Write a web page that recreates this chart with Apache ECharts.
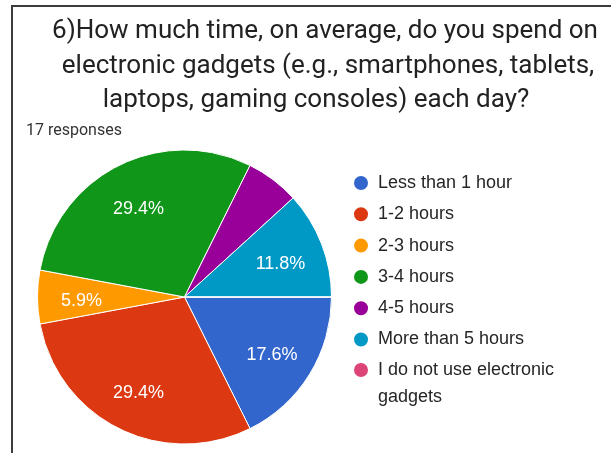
<!DOCTYPE html>
<html>
<head>
<meta charset="utf-8">
<script src="https://cdn.jsdelivr.net/npm/echarts@6/dist/echarts.min.js"></script>
<style>
  html, body { margin: 0; padding: 0; background: #ffffff; }
  #chart { width: 611px; height: 453px; }
</style>
</head>
<body>
<div id="chart"></div>
<script>
// Survey answers: time spent on electronic gadgets per day
const categories = [
  'Less than 1 hour',
  '1-2 hours',
  '2-3 hours',
  '3-4 hours',
  '4-5 hours',
  'More than 5 hours',
  'I do not use electronic gadgets'
];
const responses = [3, 5, 1, 5, 1, 2, 0];
const sliceColors = ['#3366cc', '#dc3912', '#ff9900', '#109618', '#990099', '#0099c6', '#dd4477'];
const titleLines = [
  '6)How much time, on average, do you spend on',
  'electronic gadgets (e.g., smartphones, tablets,',
  'laptops, gaming consoles) each day?'
];
const responseNote = '17 responses';
const unlabeledSlices = ['4-5 hours'];

const chart = echarts.init(document.getElementById('chart'), null, { renderer: 'canvas' });

const PIE_CENTER = [184.5, 297];
const PIE_R = 147;

const sliceData = categories.map((name, i) => ({
  name,
  value: responses[i],
  itemStyle: { color: sliceColors[i] }
}));

// transparent ring that only carries the percentage labels, so they sit ~68% out from the centre
const labelData = categories.map((name, i) => ({
  name,
  value: responses[i],
  itemStyle: { color: 'rgba(0,0,0,0)', borderWidth: 0 }
}));

const legendText = {
  fontFamily: 'Liberation Sans, Arial, sans-serif',
  fontSize: 18,
  color: '#262626',
  lineHeight: 18,
  padding: [0, 0, 0, 4]
};

const titleGraphics = titleLines.map((line, i) => ({
  type: 'text',
  x: [325, 328, 316][i],
  y: [31, 66, 100][i],
  silent: true,
  style: {
    text: line,
    fill: '#222222',
    fontFamily: 'Roboto, sans-serif',
    fontSize: 26,
    align: 'center',
    textAlign: 'center',
    verticalAlign: 'middle',
    textVerticalAlign: 'middle'
  }
}));

const option = {
  backgroundColor: '#ffffff',
  animation: false,
  legend: [
    {
      data: categories.slice(0, 6),
      orient: 'vertical',
      left: 352,
      top: 174,
      padding: 0,
      icon: 'circle',
      itemWidth: 16,
      itemHeight: 16,
      itemGap: 13.3,
      textStyle: legendText
    },
    {
      // long label wraps; a leading blank line keeps its first line level with the dot
      data: categories.slice(6),
      orient: 'vertical',
      left: 352,
      top: 329.5,
      padding: 0,
      icon: 'circle',
      itemWidth: 16,
      itemHeight: 16,
      formatter: name => '\n' + name,
      textStyle: Object.assign({}, legendText, {
        lineHeight: 27,
        width: 205,
        overflow: 'break'
      })
    }
  ],
  graphic: [
    {
      type: 'polyline',
      silent: true,
      shape: { points: [[12, 453], [12, 6], [611, 6]] },
      style: { stroke: '#3c3c3c', lineWidth: 2, fill: null }
    },
    ...titleGraphics,
    {
      type: 'text',
      x: 26,
      y: 131,
      silent: true,
      style: {
        text: responseNote,
        fill: '#333333',
        fontFamily: 'Roboto, sans-serif',
        fontSize: 16,
        verticalAlign: 'middle',
        textVerticalAlign: 'middle'
      }
    }
  ],
  series: [
    {
      name: 'responses',
      type: 'pie',
      center: PIE_CENTER,
      radius: [0, PIE_R],
      startAngle: 0,
      clockwise: true,
      avoidLabelOverlap: false,
      label: { show: false },
      labelLine: { show: false },
      itemStyle: { borderColor: '#ffffff', borderWidth: 1 },
      emphasis: { disabled: true },
      data: sliceData
    },
    {
      name: 'labels',
      type: 'pie',
      center: PIE_CENTER,
      radius: [PIE_R * 0.36, PIE_R],
      startAngle: 0,
      clockwise: true,
      silent: true,
      legendHoverLink: false,
      avoidLabelOverlap: false,
      percentPrecision: 1,
      labelLine: { show: false },
      label: {
        show: true,
        position: 'inside',
        offset: [0, 4],
        color: '#ffffff',
        fontFamily: 'Liberation Sans, Arial, sans-serif',
        fontSize: 18,
        formatter: p => (p.value === 0 || unlabeledSlices.includes(p.name)) ? '' : p.percent.toFixed(1) + '%'
      },
      emphasis: { disabled: true },
      data: labelData
    }
  ]
};

chart.setOption(option);
</script>
</body>
</html>
